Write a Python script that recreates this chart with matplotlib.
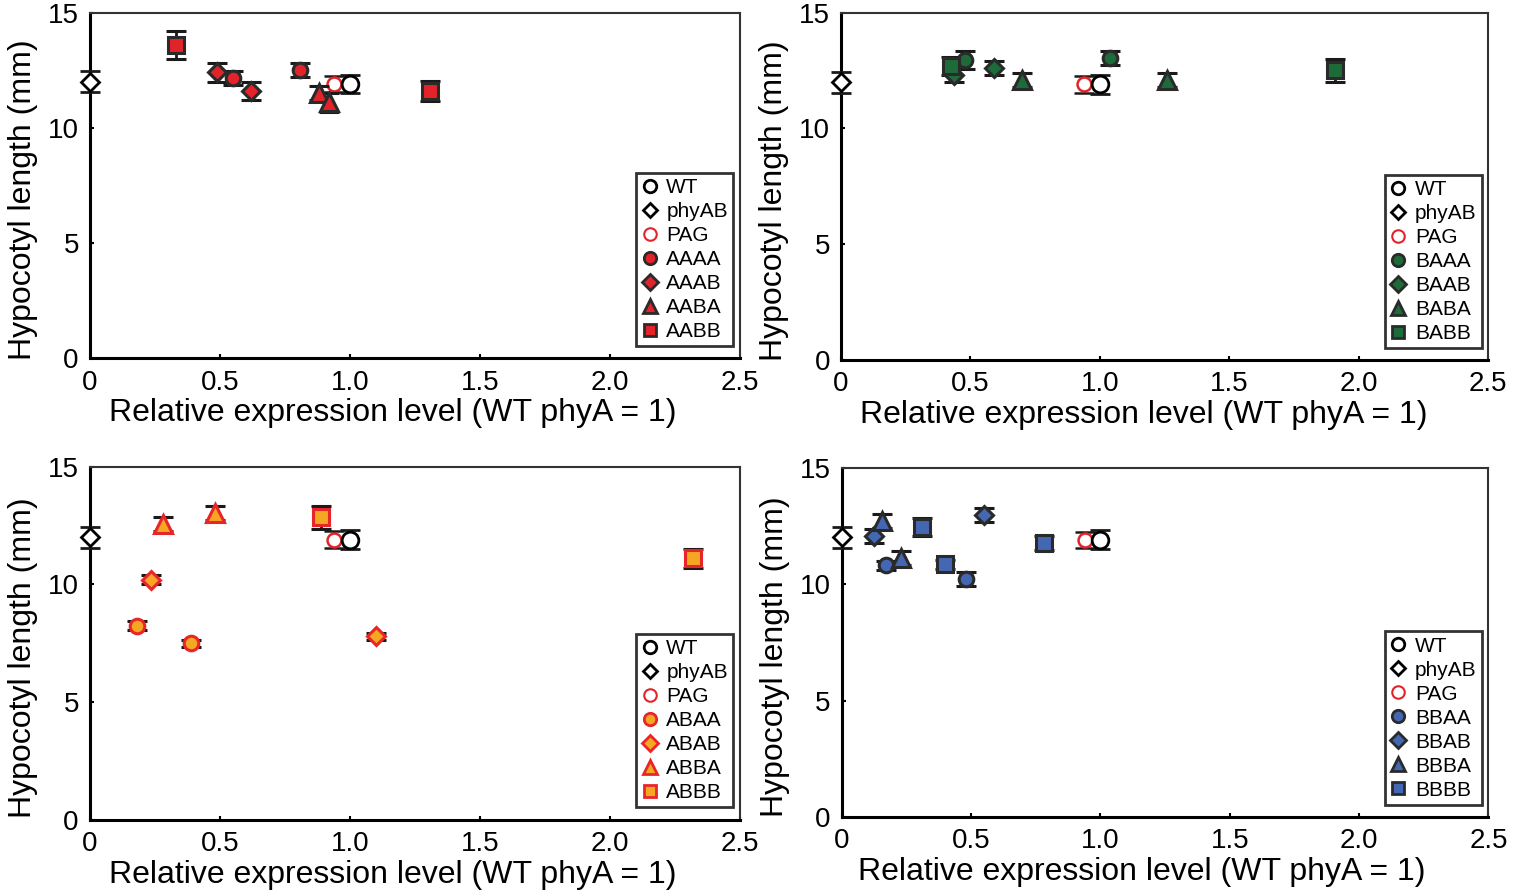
import matplotlib
matplotlib.use('Agg')
import matplotlib.pyplot as plt
from matplotlib.lines import Line2D

plt.rcParams['font.family'] = ['Liberation Sans', 'DejaVu Sans']

# 공통 대조군 (x, y, err)
wt = (1.0, 11.9, 0.4)
pag = (0.94, 11.9, 0.35)
phyab = (0.0, 12.0, 0.45)

# panel 1 : AAAA / AAAB / AABA / AABB
p1_names = ['AAAA', 'AAAB', 'AABA', 'AABB']
p1_x = [[0.55, 0.81], [0.49, 0.62], [0.88, 0.92], [0.33, 1.31]]
p1_y = [[12.15, 12.5], [12.4, 11.6], [11.5, 11.1], [13.6, 11.6]]
p1_e = [[0.3, 0.3], [0.4, 0.4], [0.3, 0.4], [0.6, 0.45]]

# panel 2 : BAAA / BAAB / BABA / BABB
p2_names = ['BAAA', 'BAAB', 'BABA', 'BABB']
p2_x = [[0.48, 1.04], [0.435, 0.59], [0.70, 1.26], [0.425, 1.91]]
p2_y = [[12.95, 13.05], [12.3, 12.6], [12.1, 12.1], [12.7, 12.5]]
p2_e = [[0.4, 0.3], [0.3, 0.3], [0.3, 0.3], [0.4, 0.5]]

# panel 3 : ABAA / ABAB / ABBA / ABBB
p3_names = ['ABAA', 'ABAB', 'ABBA', 'ABBB']
p3_x = [[0.18, 0.39], [0.235, 1.10], [0.28, 0.48], [0.89, 2.32]]
p3_y = [[8.25, 7.5], [10.2, 7.8], [12.55, 13.05], [12.85, 11.1]]
p3_e = [[0.2, 0.15], [0.2, 0.15], [0.3, 0.3], [0.5, 0.4]]

# panel 4 : BBAA / BBAB / BBBA / BBBB
p4_names = ['BBAA', 'BBAB', 'BBBA', 'BBBB']
p4_x = [[0.17, 0.48], [0.125, 0.55], [0.155, 0.23], [0.31, 0.40, 0.78]]
p4_y = [[10.8, 10.2], [12.05, 12.95], [12.7, 11.1], [12.45, 10.85, 11.75]]
p4_e = [[0.2, 0.3], [0.3, 0.3], [0.3, 0.3], [0.4, 0.2, 0.3]]

markers = ['o', 'D', '^', 's']
msizes = [10.5, 9, 12.5, 11]

# (face, edge)
styles = [('#e3232a', '#2a2a2a'),
          ('#1d6b38', '#2a2a2a'),
          ('#f5a623', '#e8262a'),
          ('#4467b4', '#2a2a2a')]

panels = [(p1_names, p1_x, p1_y, p1_e),
          (p2_names, p2_x, p2_y, p2_e),
          (p3_names, p3_x, p3_y, p3_e),
          (p4_names, p4_x, p4_y, p4_e)]

positions = [[0.059, 0.599, 0.426, 0.387],
             [0.5515, 0.597, 0.4243, 0.389],
             [0.059, 0.083, 0.426, 0.395],
             [0.552, 0.086, 0.424, 0.391]]
xlab_pos = [0.466, 0.468, 0.466, 0.464]

fig = plt.figure(figsize=(15.25, 8.94), dpi=100)

for i, (names, xs, ys, es) in enumerate(panels):
    ax = fig.add_axes(positions[i])
    face, edge = styles[i]
    ekw = dict(ecolor='#1a1a1a', elinewidth=2, capsize=7, capthick=2, linestyle='none', clip_on=False)

    # 대조군
    ax.errorbar([phyab[0]], [phyab[1]], yerr=[phyab[2]], fmt='D', ms=9, mfc='white',
                mec='black', mew=2, zorder=3, **ekw)
    ax.errorbar([pag[0]], [pag[1]], yerr=[pag[2]], fmt='o', ms=10, mfc='white',
                mec='#e3232a', mew=1.8, zorder=3, **ekw)
    ax.errorbar([wt[0]], [wt[1]], yerr=[wt[2]], fmt='o', ms=12, mfc='white',
                mec='black', mew=2, zorder=3, **ekw)

    handles = [Line2D([], [], ls='none', marker='o', ms=9, mfc='white', mec='black', mew=2),
               Line2D([], [], ls='none', marker='D', ms=7, mfc='white', mec='black', mew=2),
               Line2D([], [], ls='none', marker='o', ms=9, mfc='white', mec='#e3232a', mew=1.5)]
    labels = ['WT', 'phyAB', 'PAG']

    for k in range(4):
        ax.errorbar(xs[k], ys[k], yerr=es[k], fmt=markers[k], ms=msizes[k], mfc=face,
                    mec=edge, mew=2.2, zorder=4, **ekw)
        handles.append(Line2D([], [], ls='none', marker=markers[k], ms=msizes[k] * 0.85,
                              mfc=face, mec=edge, mew=2))
        labels.append(names[k])

    ax.set_xlim(0, 2.5)
    ax.set_ylim(0, 15)
    ax.set_xticks([0, 0.5, 1.0, 1.5, 2.0, 2.5])
    ax.set_xticklabels(['0', '0.5', '1.0', '1.5', '2.0', '2.5'])
    ax.set_yticks([0, 5, 10, 15])
    ax.tick_params(labelsize=20, direction='in', length=3, width=1.5, pad=8)
    for s in ['left', 'bottom']:
        ax.spines[s].set_linewidth(2.2)
        ax.spines[s].set_color('black')
    for s in ['top', 'right']:
        ax.spines[s].set_linewidth(1.5)
        ax.spines[s].set_color('#333333')

    ax.set_xlabel('Relative expression level (WT phyA = 1)', fontsize=23)
    ax.set_ylabel('Hypocotyl length (mm)', fontsize=23)
    ax.xaxis.set_label_coords(xlab_pos[i], -0.115)
    ax.yaxis.set_label_coords(-0.08, 0.46)

    leg = ax.legend(handles, labels, loc='lower right', bbox_to_anchor=(0.99, 0.035),
                    fontsize=15, frameon=True, fancybox=False, handlelength=0.8,
                    handletextpad=0.4, labelspacing=0.24, borderpad=0.25, borderaxespad=0)
    leg.get_frame().set_edgecolor('black')
    leg.get_frame().set_linewidth(2)

plt.savefig('out.png', dpi=100)
